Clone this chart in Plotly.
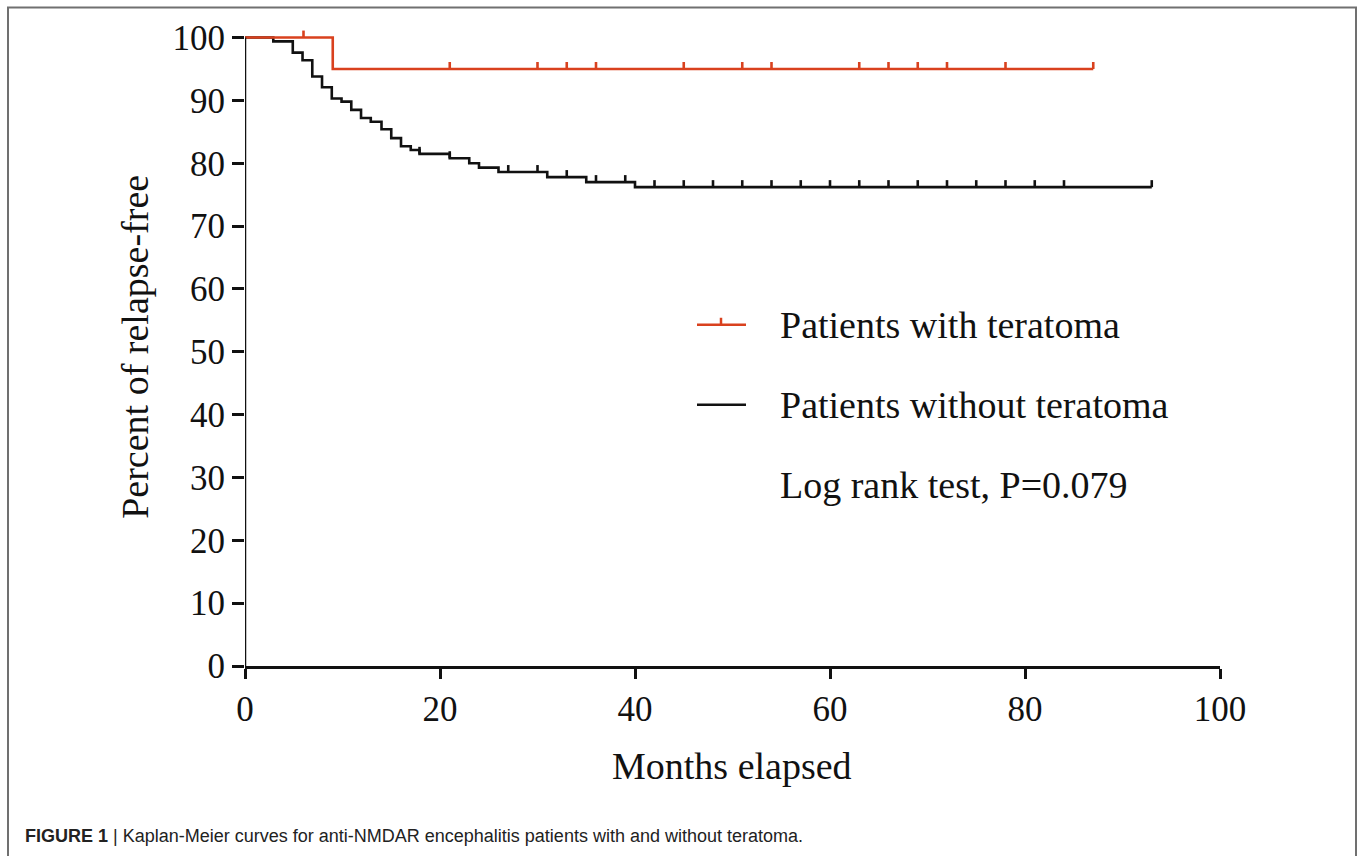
import numpy as np
import plotly.graph_objects as go

# ---------------- data ----------------
# Patients without teratoma (black)
black_time = [0, 2.9, 4.9, 5.9, 6.9, 7.9, 8.9, 9.9, 10.9, 11.9, 12.9, 14, 15, 16, 17, 17.9,
              21, 23, 24, 26, 31, 35, 40, 93]
black_surv = [100, 99.4, 97.6, 96.4, 93.8, 92.1, 90.3, 89.8, 88.5, 87.2, 86.6, 85.4, 84.0,
              82.7, 82.1, 81.5, 80.8, 80.0, 79.3, 78.6, 77.8, 77.0, 76.2, 76.2]
black_censor = [17.9, 21, 27, 30, 33, 36, 39, 42, 45, 48, 51, 54, 57, 60, 63, 66, 69, 72,
                75, 78, 81, 84, 93]

# Patients with teratoma (red)
red_time = [0, 9, 87]
red_surv = [100, 95, 95]
red_censor = [6, 21, 30, 33, 36, 45, 51, 54, 63, 66, 69, 72, 78, 87]

x_ticks = [0, 20, 40, 60, 80, 100]
y_ticks = [0, 10, 20, 30, 40, 50, 60, 70, 80, 90, 100]

legend_labels = ["Patients with teratoma", "Patients without teratoma"]
stat_label = "Log rank test, P=0.079"
x_title = "Months elapsed"
y_title = "Percent of relapse-free"
caption = ("<b>FIGURE 1</b> | Kaplan-Meier curves for anti-NMDAR encephalitis "
           "patients with and without teratoma.")

RED = "#D9411E"
BLACK = "#111111"
SERIF = "Liberation Serif, Times New Roman, serif"
SANS = "Liberation Sans, Arial, sans-serif"

# ---------------- layout geometry ----------------
W, H = 1358, 856
L, R = 245, 1220          # x pixel of 0 and 100
Y0, Y100 = 666, 38        # y pixel of 0 and 100
YMAX = 102
ppu = (Y0 - Y100) / 100.0
TOP = Y0 - YMAX * ppu


def px_x(p):
    return (p - L) / (R - L)


def px_y(p):
    return (Y0 - p) / (Y0 - TOP)


def step_value(times, surv, t):
    idx = np.searchsorted(np.array(times), t, side="right") - 1
    return surv[max(idx, 0)]


TICK_H = 7 / ppu   # censor tick height in data units

fig = go.Figure()


def add_curve(times, surv, censor, color):
    fig.add_trace(go.Scatter(x=times, y=surv, mode="lines", line=dict(color=color, width=2.6, shape="hv"),
                             showlegend=False, hoverinfo="skip"))
    cy = [step_value(times, surv, t) for t in censor]
    fig.add_trace(go.Scatter(x=censor, y=cy, mode="markers", marker=dict(size=0.1, color=color),
                             error_y=dict(type="data", symmetric=False, array=[TICK_H] * len(censor),
                                          arrayminus=[0] * len(censor), color=color, thickness=2.6, width=0),
                             showlegend=False, hoverinfo="skip", cliponaxis=False))


add_curve(black_time, black_surv, black_censor, BLACK)
add_curve(red_time, red_surv, red_censor, RED)

shapes = []
# y axis line (0 -> 100)
shapes.append(dict(type="line", xref="x", yref="y", x0=0, x1=0, y0=0, y1=100,
                   line=dict(color=BLACK, width=2.5)))
# legend samples
leg_y = [325, 405]
leg_colors = [RED, BLACK]
for yy, col in zip(leg_y, leg_colors):
    shapes.append(dict(type="line", xref="paper", yref="paper", x0=px_x(697), x1=px_x(746),
                       y0=px_y(yy), y1=px_y(yy), line=dict(color=col, width=2.5)))
shapes.append(dict(type="line", xref="paper", yref="paper", x0=px_x(721), x1=px_x(721),
                   y0=px_y(325), y1=px_y(318), line=dict(color=RED, width=2.5)))
# outer frame
shapes.append(dict(type="rect", xref="paper", yref="paper", x0=px_x(8), x1=px_x(1356),
                   y0=px_y(900), y1=px_y(8), line=dict(color="#707070", width=2),
                   fillcolor="rgba(0,0,0,0)", layer="below"))

annotations = []
for yy, lab in zip([325, 405, 485], legend_labels + [stat_label]):
    annotations.append(dict(xref="paper", yref="paper", x=px_x(778), y=px_y(yy), text=lab,
                            showarrow=False, xanchor="left", yanchor="middle",
                            font=dict(family=SERIF, size=38, color=BLACK)))
annotations.append(dict(xref="paper", yref="paper", x=px_x(732), y=px_y(766), text=x_title,
                        showarrow=False, xanchor="center", yanchor="middle",
                        font=dict(family=SERIF, size=38, color=BLACK)))
annotations.append(dict(xref="paper", yref="paper", x=px_x(135), y=px_y(347), text=y_title,
                        textangle=-90, showarrow=False, xanchor="center", yanchor="middle",
                        font=dict(family=SERIF, size=38, color=BLACK)))
annotations.append(dict(xref="paper", yref="paper", x=px_x(23), y=px_y(836), text=caption,
                        showarrow=False, xanchor="left", yanchor="middle",
                        font=dict(family=SANS, size=18, color="#222222")))

fig.update_layout(
    width=W, height=H,
    margin=dict(l=L, r=W - R, t=TOP, b=H - Y0, pad=0),
    paper_bgcolor="white", plot_bgcolor="white",
    shapes=shapes, annotations=annotations,
    xaxis=dict(range=[0, 100], tickvals=x_ticks, ticks="outside", ticklen=10, tickwidth=2.5,
               tickcolor=BLACK, showline=True, linecolor=BLACK, linewidth=2.5, showgrid=False,
               zeroline=False, tickfont=dict(family=SERIF, size=35, color=BLACK)),
    yaxis=dict(range=[0, YMAX], tickvals=y_ticks, ticks="outside", ticklen=12, tickwidth=2.5,
               tickcolor=BLACK, showline=False, showgrid=False, zeroline=False,
               tickfont=dict(family=SERIF, size=35, color=BLACK)),
)

fig.write_html("out.html", config={"displayModeBar": False},
               post_script="document.body.style.margin='0';document.body.style.overflow='hidden';")
